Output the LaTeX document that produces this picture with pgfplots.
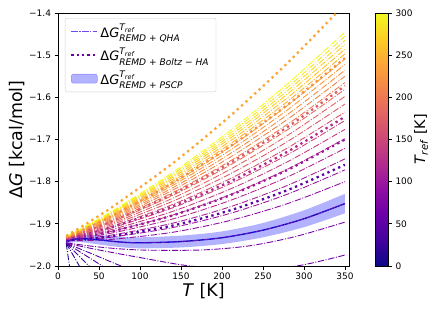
\documentclass[border=0pt]{standalone}
\usepackage{fontspec}
\setmainfont{DejaVu Sans}
\usepackage{amsmath}
\usepackage{pgfplots}
\pgfplotsset{compat=1.18}
\usepgfplotslibrary{fillbetween}

\definecolor{p0}{RGB}{13,8,135}
\definecolor{p1}{RGB}{65,4,157}
\definecolor{p2}{RGB}{106,0,168}
\definecolor{p3}{RGB}{143,13,164}
\definecolor{p4}{RGB}{177,42,144}
\definecolor{p5}{RGB}{204,71,120}
\definecolor{p6}{RGB}{225,100,98}
\definecolor{p7}{RGB}{242,132,75}
\definecolor{p8}{RGB}{252,166,54}
\definecolor{p9}{RGB}{252,206,37}
\definecolor{p10}{RGB}{240,249,33}
\definecolor{legq}{RGB}{110,70,240}

\pgfplotsset{
  colormap={plasma}{rgb255=(13,8,135) rgb255=(65,4,157) rgb255=(106,0,168) rgb255=(143,13,164) rgb255=(177,42,144) rgb255=(204,71,120) rgb255=(225,100,98) rgb255=(242,132,75) rgb255=(252,166,54) rgb255=(252,206,37) rgb255=(240,249,33)},
  qha/.style={line width=0.9bp, dash pattern=on 6.4bp off 1.6bp on 1bp off 1.6bp, smooth, forget plot},
  bha/.style={line width=2.3bp, dash pattern=on 2.3bp off 3.6bp, smooth, forget plot},
}

\begin{document}
\begin{tikzpicture}
\begin{axis}[
  scale only axis, width=291bp, height=253bp,
  xmin=0, xmax=355, ymin=-2.0, ymax=-1.4,
  xtick={0,50,100,150,200,250,300,350},
  xticklabels={0,50,100,150,200,250,300,350},
  ytick={-2.0,-1.9,-1.8,-1.7,-1.6,-1.5,-1.4},
  yticklabels={−2.0,−1.9,−1.8,−1.7,−1.6,−1.5,−1.4},
  tick align=outside, tick pos=left, major tick length=3.5bp,
  tick style={black, line width=0.8bp},
  axis line style={line width=0.8bp},
  tick label style={font=\fontsize{9}{11}\selectfont},
  xlabel={\textit{T} [K]}, ylabel={Δ\textit{G} [kcal/mol]},
  every axis x label/.style={at={(axis description cs:0.5,-0.067)}, anchor=north, inner sep=0pt, font=\fontsize{17.5}{20}\selectfont},
  every axis y label/.style={at={(axis description cs:-0.115,0.5)}, anchor=south, rotate=90, inner sep=0pt, font=\fontsize{17.5}{20}\selectfont},
  colormap name=plasma, point meta min=0, point meta max=300,
  colorbar,
  colorbar style={
    width=13bp, at={(parent axis.north east)}, anchor=north west, xshift=18bp,
    ytick={0,50,100,150,200,250,300},
    yticklabels={0,50,100,150,200,250,300},
    ytick pos=right, yticklabel pos=right, tick align=outside, major tick length=3.5bp,
    tick style={black, line width=0.8bp},
    axis line style={line width=0.8bp},
    tick label style={font=\fontsize{9}{11}\selectfont},
    ylabel={\textit{T}\textsubscript{\textit{ref}} [K]},
    every axis y label/.style={at={(axis description cs:2.95,0.5)}, anchor=north, rotate=90, inner sep=0pt, font=\fontsize{14.5}{16}\selectfont},
  },
  legend cell align=left,
  legend style={at={(0.024,0.98)}, anchor=north west, draw=black!18, rounded corners=2bp, fill=white,
    font=\fontsize{13}{15}\selectfont, inner xsep=5bp, inner ysep=4bp, row sep=5bp},
]
\addlegendimage{legend image code/.code={\draw[legq, line width=1.2bp, dash pattern=on 6.4bp off 1.6bp on 1.2bp off 1.6bp] (0bp,0bp) -- (26bp,0bp);}}
\addlegendentry{$\text{Δ}\textit{G}^{\textit{T}_{\textit{ref}}}_{\textit{REMD + QHA}}$}
\addlegendimage{legend image code/.code={\draw[p2, line width=2.3bp, dash pattern=on 2.3bp off 3bp] (0bp,0bp) -- (26bp,0bp);}}
\addlegendentry{$\text{Δ}\textit{G}^{\textit{T}_{\textit{ref}}}_{\textit{REMD + Boltz − HA}}$}
\addlegendimage{legend image code/.code={\draw[fill=blue, fill opacity=0.3, draw=blue, draw opacity=0.35] (0bp,-4.5bp) rectangle (26bp,4.5bp);}}
\addlegendentry{$\text{Δ}\textit{G}^{\textit{T}_{\textit{ref}}}_{\textit{REMD + PSCP}}$}

% QHA lines, T_ref = 10 ... 300 K
\addplot[qha, color=p1!33!p0] coordinates {(10,-1.946)(14,-2.0)(20,-2.08)};
\addplot[qha, color=p1!67!p0] coordinates {(10,-1.946)(26,-2.0)(40,-2.05)};
\addplot[qha, color=p1] coordinates {(10,-1.946)(38,-2.0)(60,-2.04)};
\addplot[qha, color=p2!33!p1] coordinates {(10,-1.946)(54,-2.0)(80,-2.035)};
\addplot[qha, color=p2!67!p1] coordinates {(10,-1.946)(40,-1.97)(77,-2.0)(120,-2.03)};
\addplot[qha, color=p2] coordinates {(10,-1.946)(50,-1.962)(100,-1.980)(161,-2.0)(226,-2.008)(291,-2.0)(350,-1.974)};
\addplot[qha, color=p3!33!p2] coordinates {(10,-1.945)(50,-1.955)(100,-1.962)(175,-1.962)(234,-1.952)(290,-1.93)(350,-1.896)};
\addplot[qha, color=p3] coordinates {(10,-1.9402)(35,-1.9395)(70,-1.936)(140,-1.920)(210,-1.892)(280,-1.852)(350,-1.800)};
\addplot[qha, color=p4!33!p3] coordinates {(10,-1.9394)(35,-1.9367)(70,-1.9304)(140,-1.9088)(210,-1.8752)(280,-1.8296)(350,-1.772)};
\addplot[qha, color=p4!67!p3] coordinates {(10,-1.9386)(35,-1.9341)(70,-1.9252)(140,-1.8984)(210,-1.8596)(280,-1.8088)(350,-1.746)};
\addplot[qha, color=p4] coordinates {(10,-1.9379)(35,-1.9316)(70,-1.9202)(140,-1.8884)(210,-1.8446)(280,-1.7888)(350,-1.721)};
\addplot[qha, color=p5!33!p4] coordinates {(10,-1.9373)(35,-1.9293)(70,-1.9156)(140,-1.8792)(210,-1.8308)(280,-1.7704)(350,-1.698)};
\addplot[qha, color=p5!67!p4] coordinates {(10,-1.9366)(35,-1.9271)(70,-1.9112)(140,-1.8704)(210,-1.8176)(280,-1.7528)(350,-1.676)};
\addplot[qha, color=p5] coordinates {(10,-1.936)(35,-1.925)(70,-1.907)(140,-1.862)(210,-1.805)(280,-1.736)(350,-1.655)};
\addplot[qha, color=p6!33!p5] coordinates {(10,-1.9355)(35,-1.923)(70,-1.903)(140,-1.854)(210,-1.793)(280,-1.720)(350,-1.635)};
\addplot[qha, color=p6!67!p5] coordinates {(10,-1.9349)(35,-1.9211)(70,-1.8992)(140,-1.8464)(210,-1.7816)(280,-1.7048)(350,-1.616)};
\addplot[qha, color=p6] coordinates {(10,-1.9344)(35,-1.9193)(70,-1.8956)(140,-1.8392)(210,-1.7708)(280,-1.6904)(350,-1.598)};
\addplot[qha, color=p7!33!p6] coordinates {(10,-1.9339)(35,-1.9176)(70,-1.8922)(140,-1.8324)(210,-1.7606)(280,-1.6768)(350,-1.581)};
\addplot[qha, color=p7!67!p6] coordinates {(10,-1.9335)(35,-1.916)(70,-1.889)(140,-1.826)(210,-1.751)(280,-1.664)(350,-1.565)};
\addplot[qha, color=p7] coordinates {(10,-1.933)(35,-1.9145)(70,-1.886)(140,-1.820)(210,-1.742)(280,-1.652)(350,-1.550)};
\addplot[qha, color=p8!33!p7] coordinates {(10,-1.9326)(35,-1.9131)(70,-1.8832)(140,-1.8144)(210,-1.7336)(280,-1.6408)(350,-1.536)};
\addplot[qha, color=p8!67!p7] coordinates {(10,-1.9322)(35,-1.9117)(70,-1.8804)(140,-1.8088)(210,-1.7252)(280,-1.6296)(350,-1.522)};
\addplot[qha, color=p8] coordinates {(10,-1.9319)(35,-1.9104)(70,-1.8778)(140,-1.8036)(210,-1.7174)(280,-1.6192)(350,-1.509)};
\addplot[qha, color=p9!33!p8] coordinates {(10,-1.9315)(35,-1.9092)(70,-1.8754)(140,-1.7988)(210,-1.7102)(280,-1.6096)(350,-1.497)};
\addplot[qha, color=p9!67!p8] coordinates {(10,-1.9312)(35,-1.9081)(70,-1.8732)(140,-1.7944)(210,-1.7036)(280,-1.6008)(350,-1.486)};
\addplot[qha, color=p9] coordinates {(10,-1.9309)(35,-1.907)(70,-1.871)(140,-1.790)(210,-1.697)(280,-1.592)(350,-1.475)};
\addplot[qha, color=p10!33!p9] coordinates {(10,-1.9306)(35,-1.906)(70,-1.869)(140,-1.786)(210,-1.691)(280,-1.584)(350,-1.465)};
\addplot[qha, color=p10!67!p9] coordinates {(10,-1.9303)(35,-1.905)(70,-1.867)(140,-1.782)(210,-1.685)(280,-1.576)(350,-1.455)};
\addplot[qha, color=p10] coordinates {(10,-1.930)(35,-1.904)(70,-1.865)(140,-1.778)(210,-1.679)(280,-1.568)(350,-1.445)};

% Boltz-HA lines
\addplot[bha, color=p2!67!p1] coordinates {(10,-1.939)(35,-1.9355)(70,-1.928)(140,-1.904)(210,-1.868)(280,-1.820)(350,-1.760)};
\addplot[bha, color=p4!33!p3] coordinates {(10,-1.9373)(35,-1.9295)(70,-1.916)(140,-1.880)(210,-1.832)(280,-1.772)(350,-1.700)};
\addplot[bha, color=p4] coordinates {(10,-1.9358)(35,-1.9241)(70,-1.9052)(140,-1.8584)(210,-1.7996)(280,-1.7288)(350,-1.646)};
\addplot[bha, color=p6!67!p5] coordinates {(10,-1.9337)(35,-1.9168)(70,-1.8906)(140,-1.8292)(210,-1.7558)(280,-1.6704)(350,-1.573)};
\addplot[bha, color=p8!33!p7] coordinates {(10,-1.9318)(35,-1.9102)(70,-1.8774)(140,-1.8028)(210,-1.7162)(280,-1.6176)(350,-1.507)};
\addplot[bha, color=p8] coordinates {(10,-1.9287)(35,-1.8992)(70,-1.855)(140,-1.7564)(210,-1.6442)(280,-1.5184)(350,-1.379)};

% PSCP band
\addplot[name path=up, draw=none, smooth, forget plot] coordinates {(10,-1.939)(25,-1.927)(50,-1.927)(75,-1.931)(100,-1.932)(150,-1.928)(200,-1.918)(250,-1.898)(300,-1.868)(350,-1.829)};
\addplot[name path=lo, draw=none, smooth, forget plot] coordinates {(10,-1.947)(25,-1.943)(50,-1.949)(75,-1.955)(100,-1.958)(150,-1.956)(200,-1.948)(250,-1.932)(300,-1.908)(350,-1.875)};
\addplot[fill=blue, fill opacity=0.3, draw=none, forget plot] fill between[of=up and lo];
\addplot[color=blue!85!black, line width=1.3bp, smooth, forget plot] coordinates {(10,-1.943)(25,-1.935)(50,-1.938)(75,-1.943)(100,-1.945)(150,-1.942)(200,-1.933)(250,-1.915)(300,-1.888)(350,-1.852)};
\addplot[qha, line width=0.5bp, color=p4!60!p3] coordinates {(10,-1.943)(25,-1.935)(50,-1.938)(75,-1.943)(100,-1.945)(150,-1.942)(200,-1.933)(250,-1.915)(300,-1.888)(350,-1.852)};
\end{axis}
\pgfresetboundingbox
\path[use as bounding box] (-58bp,-46bp) rectangle (378bp,266bp);
\end{tikzpicture}
\end{document}
